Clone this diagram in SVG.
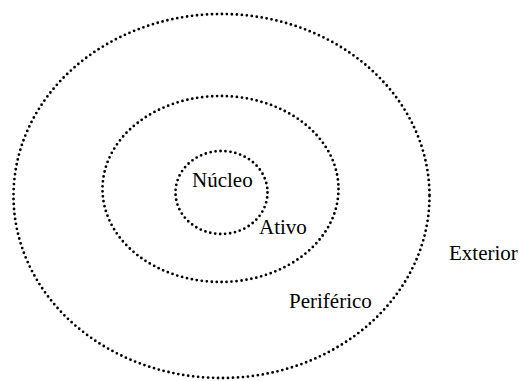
<svg xmlns="http://www.w3.org/2000/svg" width="520" height="381" viewBox="0 0 520 381">
<style>
.ring{fill:none;stroke:#000;stroke-width:2.8;stroke-linecap:round;stroke-dasharray:0 5}
.lbl{font-family:"Liberation Serif","Times New Roman",serif;font-size:21px;fill:#000}
</style>
<rect width="520" height="381" fill="#fff"/>
<g id="exterior"><ellipse class="ring" cx="221.5" cy="196" rx="208" ry="182"/><text class="lbl" x="449" y="260">Exterior</text></g>
<g id="periferico"><ellipse class="ring" cx="220.5" cy="189" rx="118" ry="93"/><text class="lbl" x="289" y="308">Periférico</text></g>
<g id="ativo"><ellipse class="ring" cx="221.5" cy="192.5" rx="46" ry="41.5"/><text class="lbl" x="259" y="234">Ativo</text></g>
<g id="nucleo"><text class="lbl" x="192" y="187">Núcleo</text></g>
<g id="connectors"/>
</svg>
